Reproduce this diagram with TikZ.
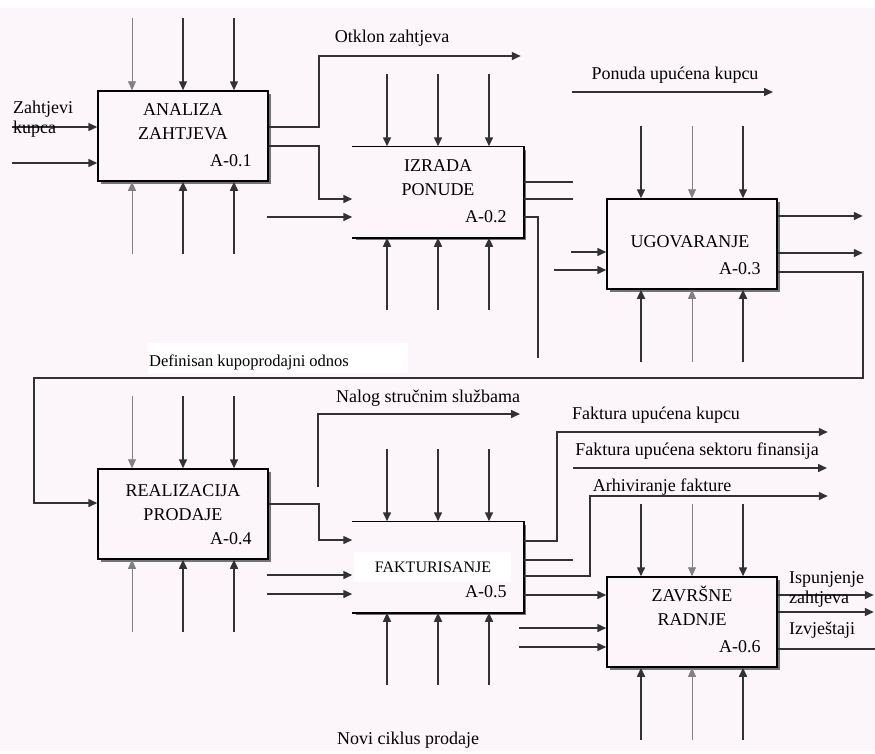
\documentclass[tikz,border=0pt]{standalone}
\usepackage{fontspec}
\setmainfont{Liberation Serif}
\usepackage{tikz}
\usetikzlibrary{calc,arrows.meta,positioning,shadows}
\usepackage{xcolor}

\definecolor{paper}{RGB}{252,246,251}
\definecolor{ink}{RGB}{50,50,50}

\begin{document}
\begin{tikzpicture}[x=1pt, y=-1pt, >={Triangle[length=9pt,width=8pt]},
    flow/.style={ink, line width=1.5pt},
    thinflow/.style={gray, line width=0.6pt},
    box/.style={draw=black, line width=1.5pt, fill=paper, minimum width=170pt, minimum height=90pt, inner sep=0pt,
        drop shadow={shadow xshift=3pt, shadow yshift=-3pt, fill=black!55, opacity=1}},
    openbox/.style={box, draw=none},
    title/.style={font=\fontsize{18}{24}\selectfont, align=center, inner sep=0pt},
    code/.style={font=\fontsize{18}{20}\selectfont, inner sep=0pt},
    lbl/.style={font=\fontsize{18}{20}\selectfont, inner sep=0pt}]

\useasboundingbox (0,0) rectangle (875,753);
\fill[white] (0,0) rectangle (875,753);
\fill[paper] (0,8) rectangle (875,751);

% activities
\node[box] (b1) at (183,136) {};
\node[openbox] (b2) at (438,192) {};
\node[box] (b3) at (692,244) {};
\node[box] (b4) at (183,514) {};
\node[openbox] (b5) at (438,567) {};
\node[box] (b6) at (692,622) {};

\draw[line width=1.5pt] (b2.north west) -- (b2.north east) -- (b2.south east) -- (b2.south west);
\draw[line width=1.5pt] (b5.north west) -- (b5.north east) -- (b5.south east) -- (b5.south west);

\fill[white] ($(b5.west)+(2,-15)$) rectangle ($(b5.west)+(159,15)$);

\node[title, below=13pt of b1.north] {ANALIZA\\ZAHTJEVA};
\node[title, below=13pt of b2.north] {IZRADA\\PONUDE};
\node[title] at ([shift={(-2pt,2pt)}]b3.center) {UGOVARANJE};
\node[title, below=16pt of b4.north] {REALIZACIJA\\PRODAJE};
\node[title, font=\fontsize{16}{20}\selectfont] at ([xshift=-5pt]b5.center) {FAKTURISANJE};
\node[title, below=10pt of b6.north] {ZAVRŠNE\\RADNJE};

\node[code, above left=15pt and 17pt of b1.south east] {A-0.1};
\node[code, above left=15pt and 17pt of b2.south east] {A-0.2};
\node[code, above left=15pt and 17pt of b3.south east] {A-0.3};
\node[code, above left=15pt and 17pt of b4.south east] {A-0.4};
\node[code, above left=15pt and 17pt of b5.south east] {A-0.5};
\node[code, above left=15pt and 17pt of b6.south east] {A-0.6};

% controls and mechanisms
\foreach \b/\l/\m in {b1/thinflow/flow, b2/flow/flow, b3/flow/thinflow, b4/thinflow/flow, b5/flow/flow, b6/flow/thinflow}{
    \draw[\l, ->] ($(\b.north)+(-51,-72)$) -- ([xshift=-51pt]\b.north);
    \draw[\m, ->] ($(\b.north)+(0,-72)$) -- (\b.north);
    \draw[flow, ->] ($(\b.north)+(51,-72)$) -- ([xshift=51pt]\b.north);
    \draw[\l, ->] ($(\b.south)+(-51,72)$) -- ([xshift=-51pt]\b.south);
    \draw[\m, ->] ($(\b.south)+(0,72)$) -- (\b.south);
    \draw[flow, ->] ($(\b.south)+(51,72)$) -- ([xshift=51pt]\b.south);
}

% inputs and outputs
\draw[flow, ->] ($(b1.west)+(-85,-9)$) -- ([yshift=9pt]b1.west);
\draw[flow, ->] ($(b1.west)+(-85,27)$) -- ([yshift=-27pt]b1.west);
\node[lbl, align=left, anchor=north west] at (13,101) {Zahtjevi\\kupca};

\draw[flow, ->] ([yshift=9pt]b1.east) -- ++(50,0) |- ++(202,-71);
\node[lbl] at (392,38) {Otklon zahtjeva};
\draw[flow, ->] ([yshift=-10pt]b1.east) -- ++(50,0) |- ([yshift=-7pt]b2.west);
\draw[flow, ->] ($(b2.west)+(-85,25)$) -- ([yshift=-25pt]b2.west);

\draw[flow] ([yshift=10pt]b2.east) -- ++(49,0);
\draw[flow] ([yshift=-7pt]b2.east) -- ++(49,0);
\draw[flow] ([yshift=-25pt]b2.east) -- ++(14,0) -- ++(0,141);

\coordinate (pon) at (572,92);
\draw[flow, ->] (pon) -- ++(201,0);
\node[lbl] at (675,75) {Ponuda upućena kupcu};

\draw[flow, ->] ($(b3.west)+(-35,8)$) -- ([yshift=-8pt]b3.west);
\draw[flow, ->] ($(b3.west)+(-52,26)$) -- ([yshift=-26pt]b3.west);
\draw[flow, ->] ([yshift=28pt]b3.east) -- ++(85,0);
\draw[flow, ->] ([yshift=-9pt]b3.east) -- ++(85,0);
\draw[flow, ->] ([yshift=-28pt]b3.east) -- ++(85,0) |- ++(-829,106) |- ([yshift=11pt]b4.west);

\fill[white] (148,343) rectangle (408,373);
\node[lbl, font=\fontsize{16.5}{20}\selectfont] at (249,362) {Definisan kupoprodajni odnos};

\draw[flow, ->] ([yshift=10pt]b4.east) -- ++(50,0) |- ([yshift=27pt]b5.west);
\coordinate (nal) at (318,487);
\draw[flow, ->] (nal) |- ++(202,-73);
\node[lbl] at (428,398) {Nalog stručnim službama};
\draw[flow, ->] ($(b5.west)+(-85,8)$) -- ([yshift=-8pt]b5.west);
\draw[flow, ->] ($(b5.west)+(-85,27)$) -- ([yshift=-27pt]b5.west);

\draw[flow, ->] ([yshift=26pt]b5.east) -- ++(33,0) |- ++(271,-109);
\node[lbl] at (656,415) {Faktura upućena kupcu};
\coordinate (fsf) at (573,468);
\draw[flow, ->] (fsf) -- ++(254,0);
\node[lbl] at (697,451) {Faktura upućena sektoru finansija};
\draw[flow] ([yshift=7pt]b5.east) -- ++(49,0);
\draw[flow, ->] ([yshift=-9pt]b5.east) -- ++(66,0) |- ++(238,-80);
\node[lbl] at (662,487) {Arhiviranje fakture};
\draw[flow, ->] ([yshift=-28pt]b5.east) -- ([yshift=27pt]b6.west);

\draw[flow, ->] ($(b6.west)+(-87,6)$) -- ([yshift=-6pt]b6.west);
\draw[flow, ->] ($(b6.west)+(-87,25)$) -- ([yshift=-25pt]b6.west);
\draw[flow, ->] ([yshift=27pt]b6.east) -- ++(96,0);
\draw[flow, ->] ([yshift=10pt]b6.east) -- ++(96,0);
\draw[flow] ([yshift=-27pt]b6.east) -- ++(98,0);
\node[lbl, align=left, anchor=north west] at (789,571) {Ispunjenje\\zahtjeva};
\node[lbl, anchor=west] at (789,630) {Izvještaji};

\node[lbl] at (408,740) {Novi ciklus prodaje};

\end{tikzpicture}
\end{document}
